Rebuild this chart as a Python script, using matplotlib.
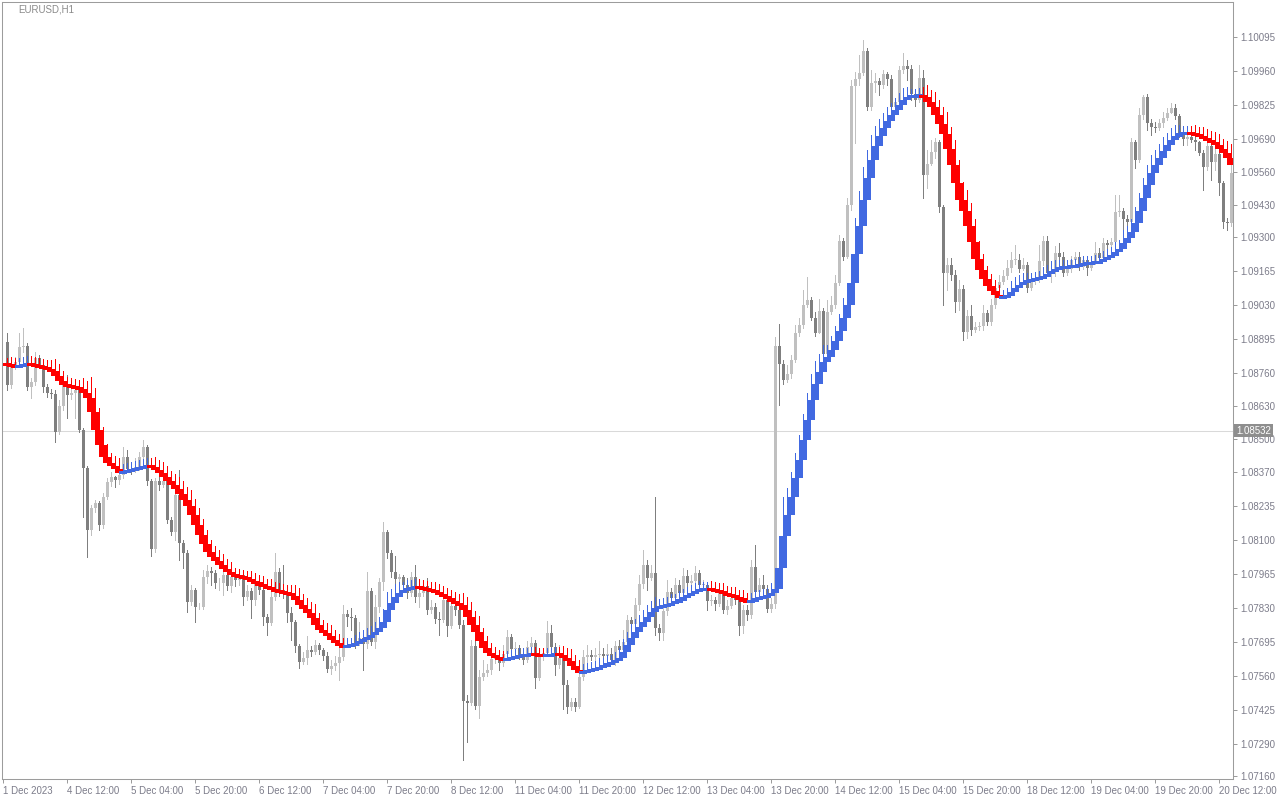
import numpy as np
import matplotlib.pyplot as plt

plt.rcParams["font.family"] = ["Liberation Sans", "DejaVu Sans"]

symbol = "EURUSD,H1"

# EURUSD H1 candles (open = previous close)
first_open = 1.08884
close = [
    1.08714, 1.08785, 1.08805, 1.08864, 1.08868, 1.08706, 1.08725, 1.08821, 1.08793, 1.08706,
    1.08682, 1.08678, 1.08527, 1.08630, 1.08714, 1.08674, 1.08682, 1.08694, 1.08535, 1.08384,
    1.08138, 1.08225, 1.08245, 1.08158, 1.08269, 1.08328, 1.08348, 1.08336, 1.08356, 1.08428,
    1.08380, 1.08376, 1.08388, 1.08428, 1.08467, 1.08332, 1.08062, 1.08332, 1.08317, 1.08332,
    1.08178, 1.08130, 1.08277, 1.08086, 1.08047, 1.07852, 1.07900, 1.07832, 1.07832, 1.07951,
    1.07975, 1.07967, 1.07927, 1.07927, 1.07959, 1.07916, 1.07951, 1.07939, 1.07959, 1.07872,
    1.07896, 1.07860, 1.07927, 1.07900, 1.07793, 1.07769, 1.07872, 1.07971, 1.07900, 1.07888,
    1.07808, 1.07773, 1.07677, 1.07614, 1.07630, 1.07662, 1.07654, 1.07681, 1.07662, 1.07638,
    1.07586, 1.07598, 1.07610, 1.07634, 1.07804, 1.07793, 1.07789, 1.07689, 1.07709, 1.07685,
    1.07896, 1.07693, 1.07832, 1.07931, 1.08130, 1.08047, 1.07971, 1.07943, 1.07951, 1.07920,
    1.07888, 1.07951, 1.07872, 1.07888, 1.07916, 1.07820, 1.07832, 1.07785, 1.07781, 1.07860,
    1.07757, 1.07836, 1.07820, 1.07761, 1.07459, 1.07451, 1.07677, 1.07439, 1.07554, 1.07570,
    1.07582, 1.07626, 1.07634, 1.07610, 1.07646, 1.07713, 1.07666, 1.07670, 1.07642, 1.07622,
    1.07674, 1.07689, 1.07550, 1.07638, 1.07650, 1.07729, 1.07674, 1.07602, 1.07630, 1.07523,
    1.07435, 1.07455, 1.07435, 1.07554, 1.07634, 1.07642, 1.07634, 1.07642, 1.07646, 1.07638,
    1.07646, 1.07622, 1.07677, 1.07662, 1.07693, 1.07781, 1.07765, 1.07840, 1.07923, 1.07999,
    1.07947, 1.07967, 1.07749, 1.07729, 1.07816, 1.07892, 1.07868, 1.07920, 1.07888, 1.07955,
    1.07927, 1.07935, 1.07967, 1.07920, 1.07920, 1.07856, 1.07860, 1.07844, 1.07892, 1.07820,
    1.07836, 1.07868, 1.07860, 1.07757, 1.07820, 1.07800, 1.07991, 1.07892, 1.07920, 1.07904,
    1.07824, 1.07844, 1.08868, 1.08797, 1.08733, 1.08757, 1.08813, 1.08920, 1.08952, 1.09031,
    1.09051, 1.08980, 1.08920, 1.09007, 1.08837, 1.09003, 1.09031, 1.09118, 1.09285, 1.09222,
    1.09428, 1.09901, 1.09928, 1.09952, 1.10040, 1.09817, 1.09912, 1.09920, 1.09905, 1.09948,
    1.09928, 1.09817, 1.09837, 1.09964, 1.09980, 1.09968, 1.09869, 1.09845, 1.09932, 1.09547,
    1.09591, 1.09639, 1.09678, 1.09420, 1.09158, 1.09190, 1.09150, 1.09043, 1.09095, 1.08924,
    1.08987, 1.08932, 1.08944, 1.08948, 1.08999, 1.08963, 1.09031, 1.09099, 1.09122, 1.09146,
    1.09178, 1.09210, 1.09210, 1.09174, 1.09190, 1.09099, 1.09130, 1.09130, 1.09206, 1.09285,
    1.09158, 1.09162, 1.09237, 1.09222, 1.09158, 1.09174, 1.09210, 1.09222, 1.09182, 1.09210,
    1.09178, 1.09202, 1.09237, 1.09218, 1.09277, 1.09269, 1.09281, 1.09400, 1.09404, 1.09372,
    1.09360, 1.09678, 1.09607, 1.09785, 1.09857, 1.09754, 1.09738, 1.09734, 1.09754, 1.09774,
    1.09793, 1.09813, 1.09781, 1.09714, 1.09690, 1.09698, 1.09686, 1.09678, 1.09635, 1.09579,
    1.09662, 1.09599, 1.09631, 1.09515, 1.09360, 1.09356, 1.09555,
]
high = [
    1.08920, 1.08813, 1.08825, 1.08920, 1.08940, 1.08880, 1.08741, 1.08845, 1.08833, 1.08805,
    1.08718, 1.08698, 1.08694, 1.08654, 1.08733, 1.08753, 1.08702, 1.08710, 1.08702, 1.08543,
    1.08392, 1.08237, 1.08257, 1.08253, 1.08285, 1.08344, 1.08368, 1.08352, 1.08376, 1.08467,
    1.08455, 1.08396, 1.08424, 1.08447, 1.08495, 1.08475, 1.08340, 1.08344, 1.08416, 1.08352,
    1.08344, 1.08190, 1.08297, 1.08376, 1.08098, 1.08058, 1.07920, 1.07908, 1.07848, 1.07979,
    1.07999, 1.07991, 1.07979, 1.07947, 1.07987, 1.07959, 1.07971, 1.07987, 1.07983, 1.07979,
    1.07920, 1.07908, 1.07947, 1.07939, 1.07908, 1.07804, 1.07900, 1.08047, 1.07987, 1.07999,
    1.07900, 1.07832, 1.07781, 1.07685, 1.07654, 1.07717, 1.07677, 1.07701, 1.07689, 1.07670,
    1.07654, 1.07622, 1.07638, 1.07701, 1.07840, 1.07820, 1.07828, 1.07800, 1.07773, 1.07741,
    1.07971, 1.07908, 1.07880, 1.07947, 1.08170, 1.08138, 1.08059, 1.08035, 1.07963, 1.07959,
    1.07947, 1.07971, 1.07999, 1.07920, 1.07939, 1.07947, 1.07860, 1.07848, 1.07812, 1.07900,
    1.07892, 1.07892, 1.07860, 1.07844, 1.07781, 1.07483, 1.07701, 1.07701, 1.07582, 1.07622,
    1.07606, 1.07646, 1.07654, 1.07642, 1.07681, 1.07741, 1.07725, 1.07693, 1.07681, 1.07662,
    1.07697, 1.07713, 1.07701, 1.07654, 1.07670, 1.07777, 1.07761, 1.07689, 1.07681, 1.07654,
    1.07542, 1.07471, 1.07471, 1.07602, 1.07662, 1.07681, 1.07662, 1.07670, 1.07697, 1.07670,
    1.07685, 1.07670, 1.07697, 1.07701, 1.07741, 1.07800, 1.07793, 1.07868, 1.07959, 1.08059,
    1.08019, 1.07999, 1.08269, 1.07765, 1.07860, 1.07939, 1.07908, 1.07947, 1.07939, 1.07987,
    1.07979, 1.07959, 1.07995, 1.07979, 1.07939, 1.07931, 1.07880, 1.07872, 1.07920, 1.07900,
    1.07860, 1.07892, 1.07892, 1.07868, 1.07840, 1.07840, 1.08019, 1.08078, 1.07947, 1.07959,
    1.07920, 1.07868, 1.08904, 1.08956, 1.08813, 1.08793, 1.08833, 1.08952, 1.08980, 1.09091,
    1.09142, 1.09063, 1.09003, 1.09055, 1.09019, 1.09051, 1.09067, 1.09150, 1.09309, 1.09297,
    1.09456, 1.09924, 1.09956, 1.10024, 1.10083, 1.10051, 1.09964, 1.09952, 1.09932, 1.09964,
    1.09956, 1.09944, 1.09853, 1.09980, 1.10032, 1.10004, 1.09984, 1.09877, 1.09984, 1.09964,
    1.09647, 1.09686, 1.09694, 1.09686, 1.09428, 1.09218, 1.09218, 1.09170, 1.09130, 1.09111,
    1.09011, 1.09031, 1.08963, 1.08963, 1.09031, 1.09011, 1.09055, 1.09130, 1.09150, 1.09170,
    1.09210, 1.09241, 1.09269, 1.09234, 1.09218, 1.09202, 1.09150, 1.09150, 1.09269, 1.09305,
    1.09305, 1.09178, 1.09265, 1.09277, 1.09241, 1.09202, 1.09226, 1.09241, 1.09241, 1.09226,
    1.09222, 1.09222, 1.09281, 1.09257, 1.09297, 1.09289, 1.09297, 1.09468, 1.09468, 1.09416,
    1.09388, 1.09694, 1.09686, 1.09813, 1.09865, 1.09869, 1.09770, 1.09758, 1.09770, 1.09797,
    1.09813, 1.09833, 1.09829, 1.09789, 1.09726, 1.09714, 1.09706, 1.09698, 1.09682, 1.09647,
    1.09694, 1.09670, 1.09651, 1.09647, 1.09523, 1.09376, 1.09587,
]
low = [
    1.08694, 1.08702, 1.08777, 1.08797, 1.08845, 1.08694, 1.08662, 1.08714, 1.08781, 1.08686,
    1.08666, 1.08662, 1.08487, 1.08519, 1.08614, 1.08583, 1.08658, 1.08583, 1.08527, 1.08190,
    1.08031, 1.08118, 1.08209, 1.08138, 1.08146, 1.08261, 1.08314, 1.08310, 1.08321, 1.08344,
    1.08368, 1.08360, 1.08368, 1.08376, 1.08416, 1.08317, 1.08035, 1.08051, 1.08297, 1.08310,
    1.08166, 1.08118, 1.08098, 1.08019, 1.07987, 1.07812, 1.07840, 1.07773, 1.07824, 1.07824,
    1.07927, 1.07920, 1.07908, 1.07900, 1.07880, 1.07900, 1.07892, 1.07916, 1.07920, 1.07840,
    1.07860, 1.07789, 1.07840, 1.07884, 1.07761, 1.07721, 1.07761, 1.07860, 1.07876, 1.07868,
    1.07773, 1.07701, 1.07654, 1.07590, 1.07606, 1.07606, 1.07638, 1.07646, 1.07646, 1.07622,
    1.07574, 1.07566, 1.07582, 1.07542, 1.07622, 1.07757, 1.07741, 1.07670, 1.07681, 1.07582,
    1.07670, 1.07681, 1.07670, 1.07812, 1.07900, 1.08027, 1.07951, 1.07920, 1.07931, 1.07900,
    1.07868, 1.07876, 1.07852, 1.07832, 1.07876, 1.07804, 1.07808, 1.07769, 1.07721, 1.07773,
    1.07717, 1.07749, 1.07800, 1.07749, 1.07225, 1.07296, 1.07443, 1.07427, 1.07392, 1.07542,
    1.07558, 1.07566, 1.07610, 1.07582, 1.07598, 1.07622, 1.07646, 1.07646, 1.07626, 1.07606,
    1.07614, 1.07662, 1.07511, 1.07542, 1.07622, 1.07638, 1.07662, 1.07562, 1.07590, 1.07427,
    1.07411, 1.07423, 1.07419, 1.07431, 1.07542, 1.07602, 1.07622, 1.07610, 1.07626, 1.07622,
    1.07618, 1.07606, 1.07602, 1.07642, 1.07654, 1.07681, 1.07749, 1.07753, 1.07820, 1.07908,
    1.07900, 1.07939, 1.07721, 1.07701, 1.07701, 1.07800, 1.07844, 1.07860, 1.07868, 1.07880,
    1.07908, 1.07900, 1.07916, 1.07900, 1.07900, 1.07820, 1.07840, 1.07820, 1.07836, 1.07808,
    1.07804, 1.07828, 1.07844, 1.07721, 1.07729, 1.07781, 1.07789, 1.07876, 1.07884, 1.07892,
    1.07812, 1.07812, 1.07828, 1.08634, 1.08718, 1.08725, 1.08741, 1.08805, 1.08908, 1.08940,
    1.09023, 1.08972, 1.08908, 1.08920, 1.08813, 1.08829, 1.08995, 1.09019, 1.09111, 1.09210,
    1.09218, 1.09408, 1.09674, 1.09905, 1.09944, 1.09805, 1.09805, 1.09877, 1.09865, 1.09893,
    1.09905, 1.09797, 1.09805, 1.09825, 1.09952, 1.09924, 1.09845, 1.09821, 1.09837, 1.09456,
    1.09495, 1.09587, 1.09615, 1.09400, 1.09031, 1.09091, 1.09130, 1.09003, 1.09011, 1.08892,
    1.08900, 1.08912, 1.08924, 1.08932, 1.08932, 1.08952, 1.08952, 1.09019, 1.09091, 1.09115,
    1.09134, 1.09162, 1.09194, 1.09162, 1.09170, 1.09083, 1.09091, 1.09115, 1.09122, 1.09190,
    1.09146, 1.09122, 1.09146, 1.09210, 1.09146, 1.09150, 1.09162, 1.09182, 1.09170, 1.09174,
    1.09150, 1.09170, 1.09194, 1.09202, 1.09210, 1.09257, 1.09261, 1.09265, 1.09384, 1.09329,
    1.09348, 1.09344, 1.09575, 1.09599, 1.09770, 1.09726, 1.09706, 1.09718, 1.09726, 1.09738,
    1.09766, 1.09793, 1.09770, 1.09698, 1.09666, 1.09666, 1.09678, 1.09647, 1.09627, 1.09488,
    1.09567, 1.09527, 1.09567, 1.09468, 1.09337, 1.09329, 1.09344,
]
# trend indicator value per bar (red while falling, blue while rising)
trend = [
    1.08793, 1.08789, 1.08785, 1.08789, 1.08793, 1.08797, 1.08793, 1.08789, 1.08785, 1.08781,
    1.08777, 1.08769, 1.08749, 1.08729, 1.08714, 1.08710, 1.08706, 1.08702, 1.08698, 1.08682,
    1.08662, 1.08606, 1.08535, 1.08475, 1.08428, 1.08404, 1.08392, 1.08380, 1.08364, 1.08368,
    1.08372, 1.08376, 1.08380, 1.08384, 1.08388, 1.08392, 1.08388, 1.08376, 1.08364, 1.08348,
    1.08332, 1.08317, 1.08301, 1.08281, 1.08257, 1.08233, 1.08197, 1.08158, 1.08118, 1.08082,
    1.08051, 1.08031, 1.08015, 1.07999, 1.07983, 1.07971, 1.07959, 1.07955, 1.07951, 1.07947,
    1.07943, 1.07935, 1.07927, 1.07920, 1.07912, 1.07908, 1.07900, 1.07896, 1.07892, 1.07888,
    1.07884, 1.07876, 1.07860, 1.07840, 1.07824, 1.07808, 1.07789, 1.07761, 1.07741, 1.07729,
    1.07717, 1.07701, 1.07689, 1.07677, 1.07670, 1.07677, 1.07681, 1.07689, 1.07697, 1.07705,
    1.07713, 1.07721, 1.07733, 1.07749, 1.07773, 1.07820, 1.07848, 1.07872, 1.07888, 1.07896,
    1.07904, 1.07908, 1.07912, 1.07908, 1.07904, 1.07900, 1.07896, 1.07888, 1.07880, 1.07872,
    1.07864, 1.07856, 1.07848, 1.07840, 1.07820, 1.07793, 1.07761, 1.07733, 1.07697, 1.07670,
    1.07650, 1.07638, 1.07630, 1.07626, 1.07622, 1.07626, 1.07630, 1.07634, 1.07638, 1.07640,
    1.07642, 1.07644, 1.07642, 1.07640, 1.07638, 1.07640, 1.07642, 1.07644, 1.07640, 1.07630,
    1.07618, 1.07598, 1.07582, 1.07570, 1.07574, 1.07578, 1.07582, 1.07586, 1.07594, 1.07598,
    1.07606, 1.07610, 1.07618, 1.07630, 1.07654, 1.07681, 1.07709, 1.07733, 1.07753, 1.07773,
    1.07793, 1.07812, 1.07828, 1.07832, 1.07836, 1.07840, 1.07848, 1.07852, 1.07860, 1.07868,
    1.07876, 1.07884, 1.07892, 1.07900, 1.07902, 1.07904, 1.07900, 1.07896, 1.07892, 1.07884,
    1.07880, 1.07876, 1.07868, 1.07864, 1.07856, 1.07852, 1.07856, 1.07864, 1.07868, 1.07872,
    1.07876, 1.07888, 1.07904, 1.07987, 1.08114, 1.08197, 1.08269, 1.08344, 1.08416, 1.08495,
    1.08575, 1.08654, 1.08718, 1.08765, 1.08805, 1.08825, 1.08853, 1.08888, 1.08928, 1.08980,
    1.09031, 1.09118, 1.09234, 1.09345, 1.09448, 1.09535, 1.09607, 1.09662, 1.09702, 1.09734,
    1.09762, 1.09785, 1.09805, 1.09825, 1.09845, 1.09857, 1.09859, 1.09861, 1.09863, 1.09857,
    1.09837, 1.09817, 1.09785, 1.09750, 1.09710, 1.09650, 1.09587, 1.09515, 1.09448, 1.09404,
    1.09345, 1.09281, 1.09214, 1.09170, 1.09134, 1.09107, 1.09087, 1.09071, 1.09059, 1.09061,
    1.09067, 1.09083, 1.09099, 1.09111, 1.09122, 1.09128, 1.09130, 1.09134, 1.09138, 1.09146,
    1.09154, 1.09166, 1.09174, 1.09178, 1.09180, 1.09182, 1.09184, 1.09186, 1.09190, 1.09194,
    1.09196, 1.09198, 1.09200, 1.09202, 1.09210, 1.09218, 1.09226, 1.09241, 1.09253, 1.09277,
    1.09297, 1.09321, 1.09357, 1.09404, 1.09456, 1.09508, 1.09555, 1.09587, 1.09615, 1.09643,
    1.09666, 1.09686, 1.09702, 1.09710, 1.09713, 1.09714, 1.09712, 1.09706, 1.09702, 1.09694,
    1.09686, 1.09678, 1.09666, 1.09650, 1.09635, 1.09615, 1.09587,
]

time_labels = ["1 Dec 2023", "4 Dec 12:00", "5 Dec 04:00", "5 Dec 20:00", "6 Dec 12:00",
               "7 Dec 04:00", "7 Dec 20:00", "8 Dec 12:00", "11 Dec 04:00", "11 Dec 20:00",
               "12 Dec 12:00", "13 Dec 04:00", "13 Dec 20:00", "14 Dec 12:00", "15 Dec 04:00",
               "15 Dec 20:00", "18 Dec 12:00", "19 Dec 04:00", "19 Dec 20:00", "20 Dec 12:00"]
price_ticks = [1.10095, 1.09960, 1.09825, 1.09690, 1.09560, 1.09430, 1.09300, 1.09165,
               1.09030, 1.08895, 1.08760, 1.08630, 1.08500, 1.08370, 1.08235, 1.08100,
               1.07965, 1.07830, 1.07695, 1.07560, 1.07425, 1.07290, 1.07160]
hline_price = 1.08532

bull_col = "#c0c0c0"
bear_col = "#7f7f7f"
rise_col = "#4169e1"
fall_col = "#ff0000"
text_col = "#7c7c8a"
frame_col = "#9c9c9c"

W, H = 1280, 800
fig = plt.figure(figsize=(W / 100, H / 100), dpi=100)
ax = fig.add_axes([2 / W, 21 / H, 1231 / W, 777 / H])

n = len(close)
x = np.arange(1, n + 1)
c = np.array(close)
o = np.array([first_open] + close[:-1])
hi = np.array(high)
lo = np.array(low)
cc = [bull_col if up else bear_col for up in (c >= o)]

# horizontal level line behind everything
ax.axhline(hline_price, color="#d9d9d9", lw=0.75, zorder=1)

# candles
ax.vlines(x, lo, hi, colors=cc, lw=0.72, zorder=2, antialiased=False)
ax.bar(x, np.maximum(np.abs(c - o), 0.00002), bottom=np.minimum(o, c), width=0.75,
       color=cc, lw=0, zorder=2, antialiased=False)

# trend indicator: thick step between consecutive values + thin line on top
t = np.array(trend)
prev = np.r_[t[0] + 0.00001, t[:-1]]
tcol = [rise_col if r else fall_col for r in (t > prev)]
top = np.maximum(t, prev)
bot = np.minimum(t, prev)
thick = np.maximum(top - bot, 0.00012)
mid = (top + bot) / 2
ax.vlines(x, mid, top + 0.00026 + (top - bot), colors=tcol, lw=0.72, zorder=3,
          antialiased=False)
ax.bar(x, thick, bottom=mid - thick / 2, width=1.8, color=tcol, lw=0, zorder=4,
       antialiased=False)

ax.set_xlim(-0.25, 307.5)
ax.set_ylim(1.071494, 1.10234)

ax.set_xticks(np.arange(len(time_labels)) * 16)
ax.set_xticklabels(time_labels, ha="left")
ax.set_yticks(price_ticks)
ax.set_yticklabels([f"{p:.5f}" for p in price_ticks])
ax.yaxis.tick_right()
ax.tick_params(axis="both", length=2.9, width=0.72, color=frame_col,
               labelsize=7, labelcolor=text_col)
ax.tick_params(axis="x", pad=2)
ax.tick_params(axis="y", pad=2.2)
for s in ax.spines.values():
    s.set_color(frame_col)
    s.set_linewidth(0.75)

ax.text(1.0 + 3 / 1231, hline_price, f"{hline_price:.5f}",
        transform=ax.get_yaxis_transform(), ha="left", va="center",
        fontsize=7, color="white", zorder=10, clip_on=False,
        bbox=dict(boxstyle="square,pad=0.18", fc="#8e8e8e", ec="none"))

fig.text(18 / W, 1 - 10 / H, symbol, ha="left", va="center", fontsize=7, color="#8a8a8a")

fig.savefig("out.png", dpi=100)
